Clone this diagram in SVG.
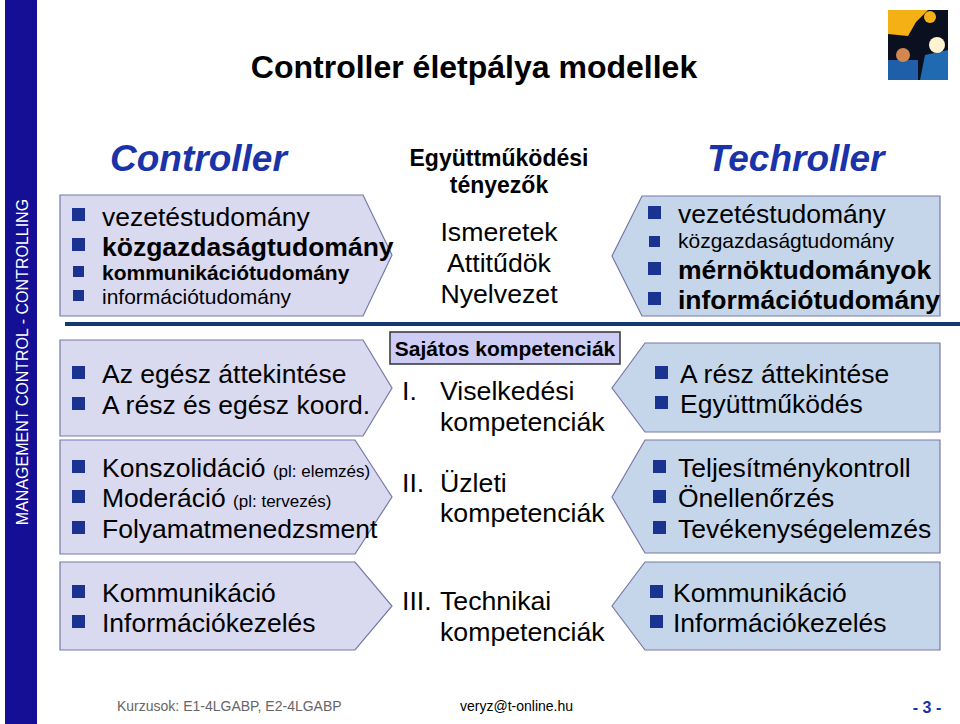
<svg xmlns="http://www.w3.org/2000/svg" width="960" height="724" viewBox="0 0 960 724">
<style>
text{font-family:"Liberation Sans",Arial,sans-serif;fill:#000}
.l{fill:#d9d9f0;stroke:#7878a8;stroke-width:1.2}
.r{fill:#c6d6ea;stroke:#7878a8;stroke-width:1.2}
.b{fill:#1a3391}
.t22{font-size:26.5px}
.t18{font-size:21px}
.bd{font-weight:bold}
.m{font-size:26.7px}
</style>
<rect x="5" y="0" width="32" height="724" fill="#150f96"/>
<text transform="translate(28,362) rotate(-90)" text-anchor="middle" style="font-size:16px;fill:#fff">MANAGEMENT CONTROL  -  CONTROLLING</text>
<g id="logo">
<rect x="888" y="10" width="60" height="70" fill="#0b1020"/>
<path d="M888 10h40l-12 12 -8 14 -20 -2z" fill="#f5b016"/>
<path d="M888 60h30v20h-30z" fill="#1f5ea8"/>
<path d="M925 55l23 -5v30h-28z" fill="#1f6ab0"/>
<circle cx="937" cy="45" r="8" fill="#fff3d0"/>
<circle cx="903" cy="55" r="7" fill="#d08850"/>
<circle cx="930" cy="17" r="6" fill="#f5b016"/>
</g>
<text x="474" y="78" text-anchor="middle" style="font-size:32px;font-weight:bold">Controller életpálya modellek</text>
<text x="110" y="171" style="font-size:37px;font-weight:bold;font-style:italic;fill:#1a33a8">Controller</text>
<text x="707" y="171" style="font-size:37px;font-weight:bold;font-style:italic;fill:#1a33a8">Techroller</text>
<line x1="65" y1="324" x2="960" y2="324" stroke="#123a6e" stroke-width="4"/>
<g id="left1"><path class="l" d="M60 195H363L392 255L363 316H60Z"/>
<rect class="b" x="72" y="208" width="13" height="13"/><rect class="b" x="72" y="238" width="13" height="13"/><rect class="b" x="73" y="266" width="11" height="11"/><rect class="b" x="73" y="290" width="11" height="11"/>
<text class="t22" x="102" y="226">vezetéstudomány</text><text class="t22 bd" x="102" y="256">közgazdaságtudomány</text><text class="t18 bd" x="102" y="280">kommunikációtudomány</text><text class="t18" x="102" y="304">információtudomány</text></g>
<g id="left2"><path class="l" d="M60 340H363L392 388L363 436H60Z"/>
<rect class="b" x="72" y="366" width="13" height="13"/><rect class="b" x="72" y="397" width="13" height="13"/>
<text class="t22" x="102" y="383">Az egész áttekintése</text><text class="t22" x="102" y="414">A rész és egész koord.</text></g>
<g id="left3"><path class="l" d="M60 440H355L392 497L355 554H60Z"/>
<rect class="b" x="72" y="460" width="13" height="13"/><rect class="b" x="72" y="490" width="13" height="13"/><rect class="b" x="72" y="521" width="13" height="13"/>
<text class="t22" x="102" y="477">Konszolidáció <tspan style="font-size:17px">(pl: elemzés)</tspan></text><text class="t22" x="102" y="507">Moderáció <tspan style="font-size:17px">(pl: tervezés)</tspan></text><text class="t22" x="102" y="538">Folyamatmenedzsment</text></g>
<g id="left4"><path class="l" d="M60 562H355L392 606L355 650H60Z"/>
<rect class="b" x="72" y="585" width="13" height="13"/><rect class="b" x="72" y="615" width="13" height="13"/>
<text class="t22" x="102" y="602">Kommunikáció</text><text class="t22" x="102" y="632">Információkezelés</text></g>
<g id="mid">
<text x="499" y="166" text-anchor="middle" style="font-size:23px;font-weight:bold">Együttműködési</text>
<text x="499" y="193" text-anchor="middle" style="font-size:23px;font-weight:bold">tényezők</text>
<text class="m" x="499" y="241" text-anchor="middle">Ismeretek</text>
<text class="m" x="499" y="272" text-anchor="middle">Attitűdök</text>
<text class="m" x="499" y="303" text-anchor="middle">Nyelvezet</text>
<rect x="390" y="332" width="230" height="32" fill="#ccccf5" stroke="#333" stroke-width="1.5"/>
<text x="505" y="356" text-anchor="middle" style="font-size:21px;font-weight:bold">Sajátos kompetenciák</text>
<text class="m" x="402" y="400">I.</text><text class="m" x="440" y="400">Viselkedési</text><text class="m" x="440" y="431">kompetenciák</text>
<text class="m" x="402" y="492">II.</text><text class="m" x="440" y="492">Üzleti</text><text class="m" x="440" y="522">kompetenciák</text>
<text class="m" x="402" y="610">III.</text><text class="m" x="440" y="610">Technikai</text><text class="m" x="440" y="641">kompetenciák</text>
</g>
<g id="right1"><path class="r" d="M642 196H940V316H642L612 256Z"/>
<rect class="b" x="648" y="206" width="13" height="13"/><rect class="b" x="649" y="236" width="11" height="11"/><rect class="b" x="648" y="262" width="13" height="13"/><rect class="b" x="648" y="292" width="13" height="13"/>
<text class="t22" x="678" y="223">vezetéstudomány</text><text style="font-size:21px" x="678" y="248">közgazdaságtudomány</text><text class="t22 bd" x="678" y="279">mérnöktudományok</text><text class="t22 bd" x="678" y="309">információtudomány</text></g>
<g id="right2"><path class="r" d="M645 343H940V432H645L612 388Z"/>
<rect class="b" x="655" y="366" width="13" height="13"/><rect class="b" x="655" y="396" width="13" height="13"/>
<text class="t22" x="680" y="383">A rész áttekintése</text><text class="t22" x="680" y="413">Együttműködés</text></g>
<g id="right3"><path class="r" d="M645 440H940V553H645L612 497Z"/>
<rect class="b" x="653" y="460" width="13" height="13"/><rect class="b" x="653" y="490" width="13" height="13"/><rect class="b" x="653" y="521" width="13" height="13"/>
<text class="t22" x="678" y="477">Teljesítménykontroll</text><text class="t22" x="678" y="507">Önellenőrzés</text><text class="t22" x="678" y="538">Tevékenységelemzés</text></g>
<g id="right4"><path class="r" d="M645 562H940V650H645L612 606Z"/>
<rect class="b" x="650" y="585" width="13" height="13"/><rect class="b" x="650" y="615" width="13" height="13"/>
<text class="t22" x="673" y="602">Kommunikáció</text><text class="t22" x="673" y="632">Információkezelés</text></g>
<g id="footer">
<text x="117" y="711" style="font-size:14px;fill:#666">Kurzusok: E1-4LGABP,  E2-4LGABP</text>
<text x="460" y="711" style="font-size:14px">veryz@t-online.hu</text>
<text x="927" y="713" text-anchor="middle" style="font-size:16px;font-weight:bold;fill:#1a33a8">- 3 -</text>
</g>
</svg>
